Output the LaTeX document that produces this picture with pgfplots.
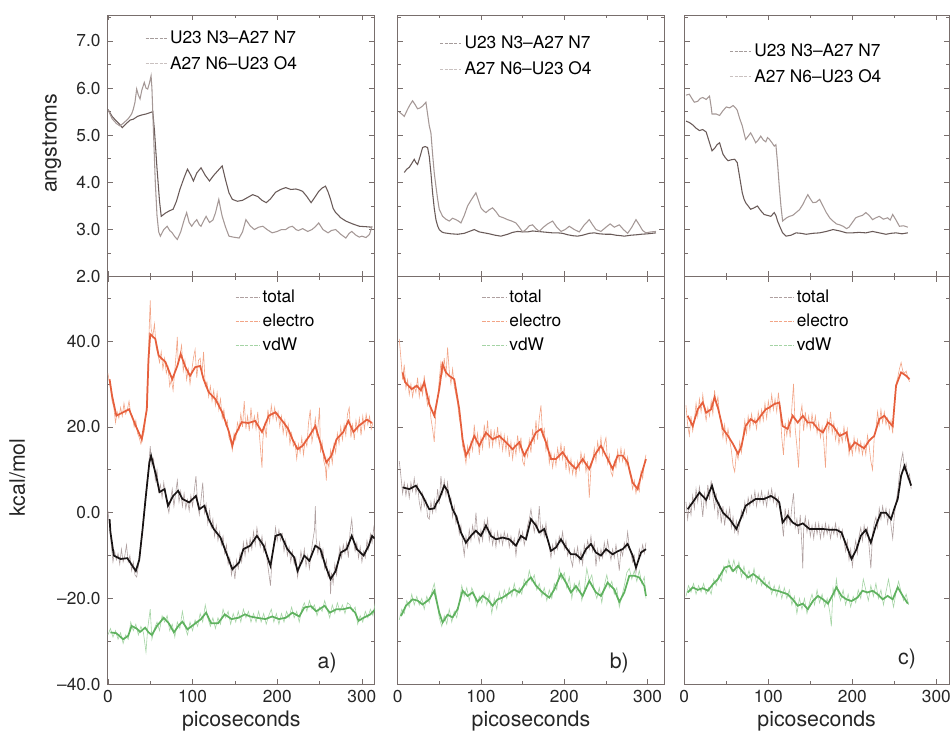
\documentclass[border=0pt]{standalone}
\usepackage{pgfplots}
\pgfplotsset{compat=1.18}
\usepackage{fontspec}
\setmainfont{TeX Gyre Heros}
\definecolor{framec}{RGB}{120,110,108}
\definecolor{topdark}{RGB}{105,90,88}
\definecolor{toplight}{RGB}{165,152,150}
\definecolor{rawtot}{RGB}{175,160,160}
\definecolor{smtot}{RGB}{25,20,20}
\definecolor{rawele}{RGB}{242,165,135}
\definecolor{smele}{RGB}{230,95,60}
\definecolor{rawvdw}{RGB}{165,212,165}
\definecolor{smvdw}{RGB}{95,178,95}
\pgfplotsset{
  panel/.style={
    scale only axis, xmin=0,
    axis line style={framec, line width=0.6pt},
    every tick/.style={framec, line width=0.5pt},
    tick align=inside,
    major tick length=4pt, minor tick length=2.5pt,
    xtick={0,100,200,300}, minor xtick={50,150,250},
    tick label style={font=\fontsize{13}{13}\selectfont, text=black!85},
    yticklabel style={xshift=-2pt},
    xticklabel style={yshift=-1pt},
    label style={font=\fontsize{16}{16}\selectfont, text=black!85},
    legend cell align=left,
  },
  toprow/.style={panel, height=196.5pt, ymin=2, ymax=7.55,
    ytick={2,3,4,5,6,7}, minor ytick={2.5,3.5,4.5,5.5,6.5,7.5},
    xticklabels={}, yticklabels={2.0,3.0,4.0,5.0,6.0,7.0},
    legend style={draw=none, fill=none, font=\fontsize{13}{13}\selectfont, anchor=north west, row sep=4pt, inner sep=0pt},
    legend image code/.code={\draw[#1, line width=0.6pt, draw opacity=0.6, dash pattern=on 2.5pt off 1pt] (0pt,0pt) -- (16pt,0pt);},
  },
  botrow/.style={panel, height=306pt, ymin=-40, ymax=55,
    ytick={-40,-20,0,20,40}, minor ytick={-30,-10,10,30,50},
    yticklabels={--40.0,--20.0,0.0,20.0,40.0},
    xticklabels={0,100,200,300},
    xlabel={picoseconds},
    xlabel style={at={(axis description cs:0.5,-0.09)}, anchor=center},
    legend style={draw=none, fill=none, font=\fontsize{13}{13}\selectfont, anchor=north west, row sep=3pt, inner sep=0pt},
    legend image code/.code={\draw[#1, line width=0.7pt, dash pattern=on 2.5pt off 1pt] (0pt,0pt) -- (18pt,0pt);},
  },
  dk/.style={topdark, line width=0.8pt},
  lt/.style={toplight, line width=0.8pt},
  rt/.style={rawtot, line width=0.45pt},
  re/.style={rawele, line width=0.45pt},
  rv/.style={rawvdw, line width=0.45pt},
  st/.style={smtot, line width=1.3pt},
  se/.style={smele, line width=1.3pt},
  sv/.style={smvdw, line width=1.3pt},
}
\begin{document}
\begin{tikzpicture}
\path[use as bounding box] (-81pt,11.25pt) rectangle (633pt,-540.75pt);
% ================= TOP A =================
\begin{axis}[toprow, at={(0pt,0pt)}, anchor=north west, width=200.25pt, xmax=315,
  ylabel={angstroms}, ylabel style={at={(axis description cs:-0.21,0.51)}, anchor=center},
  legend style={at={(axis description cs:0.139,0.95)}}]
\addplot[dk] table {
0 5.55
5 5.40
10 5.30
14 5.23
17 5.16
22 5.25
26 5.32
30 5.34
35 5.40
40 5.43
45 5.45
50 5.48
53 5.50
55 5.10
58 4.30
61 3.60
63 3.28
68 3.35
73 3.40
77 3.43
81 3.60
85 3.85
90 4.10
94 4.28
98 4.15
101 4.03
105 4.20
110 4.31
115 4.15
120 4.03
125 4.15
130 4.25
135 4.35
139 4.05
143 3.78
147 3.64
153 3.60
159 3.62
165 3.68
171 3.74
177 3.70
182 3.62
187 3.57
192 3.65
198 3.79
204 3.85
210 3.89
216 3.85
222 3.86
226 3.84
230 3.81
235 3.70
240 3.57
245 3.70
249 3.81
253 3.88
257 3.92
260 3.80
263 3.64
266 3.45
269 3.36
275 3.25
281 3.18
289 3.12
297 3.07
305 3.06
312 3.05
};
\addlegendentry{U23 N3--A27 N7}
\addplot[lt] table {
0 5.55
5 5.35
10 5.25
14 5.20
18 5.25
24 5.35
28 5.45
30 5.55
32 5.70
34 5.98
36 5.85
38 5.77
40 5.95
43 6.12
45 6.00
47 5.98
49 6.10
51 6.26
52 6.00
54 5.00
56 4.00
58 3.30
60 2.95
62 2.86
66 3.00
70 3.07
73 2.98
76 2.93
79 2.85
82 2.79
86 2.95
90 3.20
93 3.36
96 3.15
99 3.07
102 3.15
105 3.21
108 3.10
110 3.07
113 3.18
116 3.28
120 3.15
124 3.20
127 3.35
131 3.64
133 3.45
135 3.28
139 3.05
143 2.86
148 2.84
155 2.82
159 2.95
163 3.21
168 3.08
173 3.00
178 3.05
183 3.07
188 3.00
194 2.93
200 2.96
205 3.00
210 3.00
214 3.05
218 3.07
222 3.00
225 2.98
230 3.02
236 2.96
241 3.00
245 3.06
249 3.14
254 3.00
260 2.93
264 2.98
269 3.00
275 2.90
281 2.82
285 2.92
288 2.96
293 2.88
297 2.84
300 2.86
305 2.83
309 2.90
312 3.07
};
\addlegendentry{A27 N6--U23 O4}
\end{axis}
% ================= TOP B =================
\begin{axis}[toprow, at={(217.5pt,0pt)}, anchor=north west, width=200.25pt, xmax=320,
  yticklabels={}, legend style={at={(axis description cs:0.157,0.93)}}]
\addplot[dk] table {
8 4.21
11 4.28
14 4.32
17 4.40
20 4.49
22 4.42
24 4.38
27 4.55
30 4.74
33 4.76
36 4.74
38 4.55
40 4.20
42 3.78
44 3.45
46 3.21
48 3.08
50 3.00
53 2.95
56 2.93
64 2.91
72 2.90
80 2.92
86 2.96
92 3.00
98 2.95
104 2.93
110 2.91
117 2.88
124 2.86
132 2.90
138 2.94
144 2.96
150 2.95
156 2.95
162 2.97
168 2.96
174 2.95
180 2.94
186 2.93
192 2.93
198 2.92
204 2.89
210 2.87
216 2.86
222 2.88
230 2.92
236 2.93
242 2.91
250 2.90
256 2.90
262 2.88
268 2.87
272 2.86
280 2.88
287 2.89
292 2.90
300 2.91
305 2.92
310 2.93
};
\addlegendentry{U23 N3--A27 N7}
\addplot[lt] table {
2 5.49
5 5.45
8 5.40
12 5.55
15 5.65
18 5.73
21 5.65
24 5.56
27 5.58
30 5.62
32 5.66
34 5.70
36 5.45
38 5.20
40 5.05
42 4.60
44 4.20
46 3.92
48 3.65
50 3.43
54 3.28
58 3.22
62 3.18
66 3.24
70 3.21
73 3.18
76 3.14
80 3.30
84 3.50
88 3.62
91 3.70
94 3.78
97 3.62
100 3.46
103 3.40
106 3.36
110 3.42
114 3.46
118 3.38
122 3.28
127 3.25
132 3.21
137 3.18
142 3.14
146 3.05
150 2.95
154 3.00
158 3.08
162 3.10
166 3.02
170 2.96
175 3.05
180 3.12
186 3.18
191 3.05
196 2.96
201 3.00
206 3.07
212 3.00
218 2.95
224 3.10
230 3.21
234 3.10
238 3.00
244 2.96
250 3.05
255 3.12
260 3.05
266 3.10
271 3.00
276 2.92
281 3.05
286 3.21
290 3.10
294 2.98
298 2.93
304 2.95
310 2.96
};
\addlegendentry{A27 N6--U23 O4}
\end{axis}
% ================= TOP C =================
\begin{axis}[toprow, at={(432.75pt,0pt)}, anchor=north west, width=198.75pt, xmax=315,
  yticklabels={}, legend style={at={(axis description cs:0.17,0.90)}}]
\addplot[dk] table {
2 5.30
6 5.27
10 5.22
14 5.15
18 5.10
22 5.12
26 5.07
29 4.90
33 4.67
36 4.72
39 4.80
42 4.84
44 4.72
46 4.60
49 4.52
52 4.46
56 4.48
60 4.49
63 4.42
66 4.10
69 3.78
71 3.65
73 3.57
76 3.50
79 3.43
83 3.46
87 3.50
91 3.40
95 3.32
99 3.30
103 3.28
107 3.36
109 3.30
111 3.18
114 3.05
117 2.93
121 2.86
127 2.88
133 2.93
139 2.92
145 2.90
153 2.92
161 2.93
169 2.96
177 3.00
185 2.97
193 2.93
200 2.93
208 2.94
216 2.93
224 2.96
232 2.93
240 2.90
246 2.92
252 2.93
259 2.91
266 2.93
};
\addlegendentry{U23 N3--A27 N7}
\addplot[lt] table {
2 5.85
6 5.87
9 5.78
12 5.70
16 5.72
19 5.78
22 5.80
26 5.76
30 5.83
32 5.60
33 5.45
38 5.45
42 5.42
46 5.52
50 5.60
54 5.58
58 5.63
61 5.58
63 5.53
66 5.35
69 5.20
71 5.05
73 4.91
76 4.98
79 5.05
82 4.95
85 4.84
88 4.90
91 4.98
94 4.90
97 4.86
99 4.95
101 4.92
104 4.85
107 4.77
109 4.80
111 4.40
113 3.92
115 3.50
117 3.18
121 3.24
125 3.28
129 3.30
133 3.36
137 3.42
141 3.53
144 3.64
147 3.74
150 3.65
153 3.57
157 3.58
161 3.64
165 3.50
169 3.36
173 3.25
177 3.18
181 3.12
185 3.10
189 3.07
193 3.02
196 3.05
200 3.15
204 3.25
208 3.28
212 3.30
216 3.36
220 3.30
224 3.21
228 3.25
232 3.28
237 3.22
242 3.25
245 3.20
248 3.32
252 3.20
256 3.07
261 3.08
266 3.05
};
\addlegendentry{A27 N6--U23 O4}
\end{axis}
% ================= BOTTOM A =================
\begin{axis}[botrow, at={(0pt,-196.5pt)}, anchor=north west, width=200.25pt, xmax=315,
  ylabel={kcal/mol}, ylabel style={at={(axis description cs:-0.34,0.507)}, anchor=center},
  legend style={at={(axis description cs:0.476,0.975)}}]
\addplot[rt] table {
0 0.5
2 -3.0
4 -7.5
6 -11.5
8 -9.0
10 -11.0
12 -9.5
14 -12.0
16 -8.5
18 -11.5
20 -10.0
22 -7.5
24 -11.5
26 -10.0
28 -13.5
30 -11.5
32 -14.5
34 -15.0
36 -12.5
38 -10.0
40 -6.0
42 -1.0
44 3.0
46 7.0
48 10.5
50 15.5
52 11.0
54 12.5
56 7.5
58 10.0
60 5.0
62 6.5
64 3.5
66 7.0
68 4.0
70 2.0
72 0.0
74 3.0
76 5.5
78 1.5
80 4.5
82 7.5
84 2.5
86 5.0
88 1.5
90 4.5
92 1.0
94 3.0
96 0.5
98 4.0
100 1.5
102 5.0
104 8.5
106 2.0
108 -0.5
110 3.0
112 7.0
114 0.0
116 2.0
118 -2.5
120 0.5
122 -3.5
124 -1.5
126 -5.5
128 -3.0
130 -6.5
132 -4.5
134 -7.5
136 -5.5
138 -9.5
140 -7.5
142 -12.0
144 -10.5
146 -14.5
148 -12.0
150 -15.5
152 -11.0
154 -13.0
156 -9.5
158 -11.5
160 -7.0
162 -10.0
164 -6.5
166 -9.0
168 -6.0
170 -8.5
172 -4.5
174 -7.5
176 -3.5
178 -6.0
180 -8.0
182 -5.5
184 -9.0
186 -7.0
188 -11.0
190 -14.0
192 -17.0
194 -10.5
196 -7.5
198 -3.5
200 -6.5
202 -4.0
204 -6.5
206 -5.0
208 -9.0
210 -6.5
212 -10.0
214 -8.0
216 -11.5
218 -9.0
220 -12.0
222 -10.5
224 -15.0
226 -12.5
228 -9.0
230 -11.5
232 -8.5
234 -12.5
236 -10.0
238 -13.0
240 -9.5
242 -6.5
244 -4.0
245 1.5
246 -6.0
248 -9.5
250 -7.0
252 -10.5
254 -8.5
256 -13.0
258 -11.0
260 -15.0
262 -13.5
263 -19.0
264 -14.0
266 -16.5
268 -12.0
270 -14.5
272 -11.0
274 -8.0
276 -10.5
278 -7.5
280 -9.5
282 -7.0
284 -10.5
286 -4.5
288 -1.5
290 -6.5
292 -9.0
294 -7.0
296 -10.5
298 -8.0
300 -11.5
302 -9.0
304 -10.5
306 -6.5
308 -8.5
310 -5.0
312 -7.0
314 -3.5
316 -6.0
};
\addlegendentry{total}
\addplot[re] table {
0 32.5
3 29.0
5 26.0
7 24.5
9 21.0
11 23.5
13 22.0
15 24.5
17 22.5
19 25.5
21 23.0
23 24.0
25 26.0
27 23.0
29 22.5
31 20.0
33 21.5
35 18.5
37 17.5
39 16.0
41 17.5
43 19.0
45 23.0
47 33.0
49 44.0
50 49.5
51 43.0
53 41.0
55 44.0
57 38.5
59 37.0
61 35.0
63 37.5
65 33.5
67 36.0
69 32.5
71 34.0
73 29.5
75 31.0
77 28.5
79 33.0
81 38.0
82 41.0
83 35.0
85 36.5
87 39.0
89 33.0
91 35.5
93 31.0
95 33.5
97 30.0
99 33.0
101 36.0
103 38.0
105 31.5
107 35.5
109 36.0
111 32.0
113 37.5
115 29.5
117 30.5
119 27.0
121 29.5
123 26.0
125 28.5
127 25.0
129 28.0
131 24.0
133 26.5
135 22.0
137 24.0
139 20.5
141 21.5
143 17.5
145 16.5
147 14.5
149 18.5
151 17.0
153 21.0
155 19.5
157 23.0
159 20.0
161 26.0
163 19.5
165 22.5
167 19.0
169 24.5
171 20.0
173 22.5
175 19.5
177 23.5
179 18.0
181 13.0
182 10.5
183 17.0
185 20.5
187 17.5
189 24.0
191 21.0
193 25.0
195 22.0
197 24.5
199 21.5
201 23.5
203 20.0
205 22.5
207 18.5
209 21.5
211 18.0
213 20.5
215 16.0
217 18.5
219 15.5
221 16.5
223 12.5
225 16.0
227 14.0
229 17.5
231 13.5
233 17.0
235 15.5
237 21.0
239 24.0
241 16.5
243 19.0
245 22.0
247 17.5
249 22.0
250 24.5
251 14.0
253 16.5
255 12.0
257 10.5
258 7.5
259 12.5
261 10.5
263 14.5
265 11.5
267 16.0
269 14.0
271 18.5
273 16.0
275 20.0
277 17.0
279 20.5
281 18.0
283 23.0
285 24.5
287 17.5
289 20.5
291 17.0
293 21.5
295 19.0
297 22.0
299 18.0
301 22.5
303 19.5
305 23.0
307 20.5
309 22.5
311 19.5
313 21.0
};
\addlegendentry{electro}
\addplot[rv] table {
0 -28.5
3 -27.0
6 -29.0
9 -27.5
12 -29.5
15 -28.0
18 -30.5
21 -28.5
24 -29.5
27 -25.5
30 -27.5
33 -26.0
36 -28.5
39 -26.5
42 -28.0
45 -32.5
47 -27.0
50 -22.5
52 -29.5
55 -27.0
58 -25.5
61 -27.5
64 -24.0
67 -25.5
70 -24.0
73 -27.5
76 -26.0
79 -29.0
82 -25.5
85 -27.0
88 -23.0
91 -26.5
94 -28.5
97 -25.5
100 -27.5
103 -25.0
106 -26.5
109 -23.5
112 -25.5
115 -21.5
118 -24.5
121 -26.5
124 -24.5
127 -27.0
130 -24.5
133 -26.0
136 -22.5
139 -24.5
142 -23.0
145 -26.0
148 -23.5
151 -25.5
154 -23.0
157 -25.5
160 -22.5
163 -24.5
166 -23.0
169 -25.5
172 -23.5
175 -25.5
178 -23.0
181 -25.5
184 -23.5
187 -26.0
190 -24.0
193 -22.5
196 -25.5
199 -23.5
202 -26.0
205 -23.5
208 -25.5
211 -23.0
214 -24.5
217 -22.0
220 -24.5
223 -23.0
226 -25.5
229 -22.5
232 -21.0
235 -23.0
238 -20.5
241 -22.5
244 -21.5
247 -24.0
250 -22.0
253 -23.0
256 -20.5
259 -22.5
262 -24.5
265 -21.5
268 -23.5
271 -21.0
274 -23.0
277 -21.5
280 -23.5
283 -21.0
286 -21.5
289 -23.0
292 -22.0
295 -26.0
298 -24.0
301 -25.5
304 -23.0
307 -24.5
310 -22.5
313 -24.0
316 -20.5
};
\addlegendentry{vdW}
\addplot[st, forget plot] table {
2 -1.5
3 -4.5
7 -10.0
15 -10.8
23 -10.6
29 -12.4
33 -13.6
37 -11.0
41 -3.8
44.5 3.2
49 11.7
51 13.3
57 8.6
61 4.8
67 5.5
71 1.6
77 3.9
83 5.1
88 3.2
96 2.4
104 3.9
108 0.8
114 1.6
119 -1.5
125 -3.8
133 -5.8
141 -10.0
147 -13.2
155 -11.6
160 -8.5
168 -7.7
176 -5.4
184 -7.7
192 -12.4
198 -5.4
204 -5.0
212 -8.5
220 -10.4
224 -13.6
232 -10.0
238 -11.2
245 -7.7
251 -8.5
257 -12.4
263 -15.5
269 -13.6
275 -9.3
282 -8.5
288 -5.4
294 -8.5
302 -10.0
308 -7.7
312 -5.4
315 -6.0
};
\addplot[se, forget plot] table {
2 31.1
5 27.2
10 22.6
18 23.4
25 24.1
33 20.2
40 17.1
46 24.1
48 35.8
50 41.6
56 40.5
60 36.6
68 35.1
76 31.1
82 34.2
86 37.0
91 34.2
97 31.9
103 33.9
109 34.2
113 31.1
119 28.1
127 26.5
135 23.4
143 18.8
147 15.6
150 17.9
158 21.1
166 20.9
174 21.4
182 18.8
190 22.6
198 23.4
208 20.9
213 19.5
218 17.1
224 14.8
230 15.6
238 17.9
245 20.2
252 15.6
258 11.7
264 13.3
270 17.1
278 18.8
284 21.4
290 18.8
296 20.2
302 21.1
306 21.7
312 20.9
};
\addplot[sv, forget plot] table {
3 -27.9
10 -28.1
18 -29.5
24 -28.7
28 -26.4
34 -27.0
38 -27.8
44 -26.8
48 -27.9
52 -28.5
58 -26.4
66 -24.5
72 -25.8
78 -27.9
84 -26.2
88 -25.4
94 -27.2
102 -26.0
110 -24.8
116 -23.3
122 -25.8
130 -25.8
138 -23.7
146 -24.8
154 -24.5
162 -23.7
168 -24.2
176 -24.5
186 -24.8
194 -24.2
202 -24.8
210 -24.5
218 -23.3
226 -24.2
232 -22.1
240 -21.8
246 -23.0
256 -21.7
262 -23.3
270 -22.5
278 -22.5
286 -22.1
292 -23.3
296 -25.2
302 -24.5
310 -23.7
316 -22.5
};
\node[font=\fontsize{16}{16}\selectfont, text=black!85] at (axis cs:259,-35) {a)};
\end{axis}
% ================= BOTTOM B =================
\begin{axis}[botrow, at={(217.5pt,-196.5pt)}, anchor=north west, width=200.25pt, xmax=320,
  yticklabels={}, legend style={at={(axis description cs:0.315,0.975)}}]
\addplot[rt] table {
2 12.0
4 8.5
6 4.5
8 7.0
10 4.0
12 6.5
14 3.5
16 7.0
18 5.0
20 8.0
22 4.5
24 6.5
26 2.5
28 0.5
30 4.5
32 1.5
34 3.0
36 -1.0
38 -1.5
40 2.5
42 0.0
44 3.0
46 0.5
48 5.5
50 2.0
52 8.5
54 4.5
56 7.5
58 4.0
60 7.0
62 2.5
64 3.5
66 -1.0
68 1.5
70 -2.5
72 -1.0
74 -5.0
76 -3.0
78 -7.0
80 -10.0
82 -5.5
84 -8.0
86 -4.0
88 -6.5
90 -3.0
92 -5.5
94 0.0
96 -5.0
98 -7.0
100 -4.0
102 -6.5
104 -2.0
106 -4.5
108 -1.5
110 -6.5
112 -4.0
114 -7.5
116 -5.0
118 -8.0
120 -4.5
122 -7.0
124 -5.0
126 -7.5
128 -4.5
130 -6.5
132 -5.0
134 -8.0
136 -5.5
138 -7.5
140 -6.0
142 -10.0
144 -6.5
146 -4.0
148 -6.5
150 -4.5
152 -7.5
154 -5.5
156 -3.0
158 -1.5
160 0.8
162 -2.0
164 -4.5
166 -2.0
168 -4.0
170 1.5
172 -5.0
174 -3.0
176 -5.5
178 -2.5
180 -6.5
182 -8.0
184 -10.5
186 -7.5
188 -9.5
190 -6.5
192 -8.5
194 -5.5
196 -7.0
198 -4.5
200 -8.5
202 -6.5
204 -10.0
206 -8.5
208 -11.0
210 -12.5
212 -8.5
214 -10.5
216 -8.0
218 -11.5
220 -9.0
222 -12.0
224 -7.5
226 -9.5
228 -6.5
230 -8.5
232 -5.5
234 -9.0
236 -7.0
238 -12.5
240 -8.5
242 -11.0
244 -8.5
246 -10.5
248 -7.0
250 -9.5
252 -6.5
254 -9.0
256 -11.0
258 -8.5
260 -10.5
262 -7.5
264 -10.0
266 -13.5
268 -8.5
270 -10.0
272 -7.0
274 -8.5
276 -4.5
278 -8.0
280 -9.5
282 -11.5
284 -10.0
286 -14.0
288 -11.5
290 -8.5
292 -10.0
294 -7.5
296 -9.5
298 -7.0
};
\addlegendentry{total}
\addplot[re] table {
2 40.5
4 36.0
6 31.0
8 34.5
10 29.0
12 31.0
14 27.5
16 30.0
18 27.0
20 29.5
22 28.0
24 31.5
26 27.0
28 30.0
30 27.5
32 32.0
34 27.5
36 25.0
38 27.0
40 22.0
42 19.5
44 16.5
46 24.0
48 26.0
50 31.0
52 35.0
54 32.5
56 36.0
58 31.5
60 38.5
62 33.0
64 30.0
66 33.5
68 29.5
70 27.5
72 25.5
74 22.0
76 20.0
78 15.5
80 14.0
82 11.5
84 15.5
86 13.0
88 16.5
90 14.5
92 20.5
94 16.0
96 18.5
98 13.5
100 17.5
102 15.0
104 20.5
106 17.0
108 21.5
110 15.0
112 19.5
114 15.5
116 19.0
118 16.5
120 20.0
122 15.5
124 18.5
126 14.5
128 18.0
130 14.5
132 17.5
134 13.0
136 16.5
138 12.5
140 16.0
142 13.5
144 18.0
146 14.5
148 17.5
150 12.0
152 11.0
154 14.5
156 13.0
158 17.0
160 14.0
162 19.5
164 16.0
166 21.5
168 17.0
170 22.0
172 25.0
174 18.0
176 19.5
178 14.5
180 17.0
182 11.5
184 14.0
186 10.5
188 13.5
190 11.0
192 15.0
194 12.5
196 16.0
198 12.5
200 15.5
202 10.0
204 13.0
206 9.5
208 12.5
210 9.0
212 11.5
214 8.5
216 12.0
218 10.0
220 14.0
222 11.5
224 13.5
226 9.5
228 12.0
230 3.5
232 10.5
234 12.0
236 15.0
238 12.0
240 16.5
242 14.0
244 17.5
246 13.5
248 16.0
250 17.5
252 11.5
254 13.5
256 9.5
258 8.5
260 12.0
262 10.5
264 14.5
266 12.0
268 15.0
270 12.0
272 14.5
274 11.0
276 13.0
278 9.5
280 8.0
282 5.5
284 7.5
286 4.5
288 6.5
290 5.0
292 9.5
294 8.0
296 11.5
298 13.5
};
\addlegendentry{electro}
\addplot[rv] table {
2 -25.0
5 -22.5
8 -23.5
11 -20.5
14 -22.0
17 -19.0
20 -21.5
23 -19.5
26 -21.5
29 -20.0
32 -22.5
35 -19.5
38 -21.0
41 -18.5
44 -16.5
47 -20.0
50 -24.5
53 -26.5
56 -24.0
59 -26.0
62 -22.5
65 -25.5
68 -23.0
71 -24.5
74 -21.0
77 -17.0
80 -19.5
83 -17.5
86 -20.5
89 -17.5
92 -19.0
95 -22.0
98 -19.5
101 -21.0
104 -18.5
107 -21.5
110 -19.0
113 -23.5
116 -20.0
119 -22.5
122 -18.5
125 -21.0
128 -18.0
131 -20.0
134 -17.5
137 -19.5
140 -16.5
143 -19.5
146 -17.5
149 -19.0
152 -15.5
155 -17.0
158 -13.5
161 -16.0
164 -14.5
167 -18.0
170 -16.5
173 -19.5
176 -17.5
179 -20.5
182 -18.0
185 -20.0
188 -16.5
191 -18.0
194 -13.0
197 -15.5
200 -14.0
203 -17.5
206 -15.0
209 -20.0
212 -16.5
215 -18.5
218 -16.0
221 -20.5
224 -18.0
227 -13.0
230 -16.0
233 -14.5
236 -18.0
239 -20.0
242 -17.5
245 -21.0
248 -17.0
251 -14.5
254 -17.5
257 -16.0
260 -19.0
263 -17.5
266 -22.0
269 -19.5
272 -17.0
275 -14.0
278 -13.0
281 -15.5
284 -13.5
287 -16.0
290 -13.5
293 -16.5
296 -15.0
298 -20.0
};
\addlegendentry{vdW}
\addplot[st, forget plot] table {
6 5.9
14 5.5
22 6.3
30 3.9
38 0.8
44 1.0
46 2.0
50 3.2
56 6.3
60 5.1
66 0.8
70 -0.7
76 -4.6
82 -7.0
88 -5.4
94 -4.2
100 -5.4
106 -3.0
112 -5.4
118 -6.2
126 -5.8
134 -6.2
142 -7.7
148 -5.4
154 -6.2
160 -1.5
166 -3.0
170 -4.6
176 -3.8
180 -6.2
184 -8.9
190 -8.1
196 -6.2
202 -8.1
208 -9.7
214 -9.7
220 -10.8
226 -8.5
232 -7.3
238 -9.3
244 -10.0
250 -8.5
258 -9.7
264 -9.0
270 -8.5
276 -7.3
282 -10.0
286 -12.8
292 -9.3
298 -8.5
};
\addplot[se, forget plot] table {
6 32.7
9 30.4
17 28.8
23 29.6
28 28.5
32 30.4
38 25.3
44 22.6
50 28.8
54 34.6
58 32.7
62 31.9
68 31.1
74 24.1
78 17.1
82 13.3
86 14.8
92 17.9
98 15.6
106 18.7
114 17.1
122 17.9
130 16.4
138 14.8
146 16.4
152 13.3
158 15.6
166 18.7
172 19.5
178 16.4
184 12.5
190 12.5
198 14.1
206 11.7
214 10.2
222 12.5
230 10.2
236 13.3
244 15.6
250 13.3
258 10.2
264 13.3
270 13.3
276 11.7
282 7.0
288 5.5
292 8.6
298 12.5
};
\addplot[sv, forget plot] table {
4 -24.1
10 -21.7
18 -20.2
24 -20.5
30 -21.4
38 -20.2
44 -18.2
50 -23.3
54 -25.6
60 -23.8
66 -24.4
72 -22.5
78 -18.2
84 -19.4
90 -18.6
96 -20.8
102 -19.4
108 -20.2
114 -21.7
120 -20.2
126 -19.8
132 -19.0
140 -17.9
146 -18.6
154 -16.3
160 -15.1
166 -17.0
174 -18.6
182 -19.8
188 -17.9
196 -14.3
202 -16.3
208 -18.6
214 -17.1
222 -19.4
230 -15.9
238 -18.6
244 -19.4
252 -16.3
260 -17.9
266 -20.8
272 -18.6
278 -14.7
284 -14.7
290 -15.1
296 -17.1
298 -19.4
};
\node[font=\fontsize{16}{16}\selectfont, text=black!85] at (axis cs:266,-35) {b)};
\end{axis}
% ================= BOTTOM C =================
\begin{axis}[botrow, at={(432.75pt,-196.5pt)}, anchor=north west, width=198.75pt, xmax=315,
  yticklabels={}, legend style={at={(axis description cs:0.32,0.975)}}]
\addplot[rt] table {
2 2.5
4 -1.5
6 2.0
8 -0.5
10 4.0
12 1.0
14 5.5
16 2.5
18 6.0
20 3.0
22 -1.0
24 4.5
26 1.5
28 6.5
30 3.0
32 7.5
34 4.0
36 1.0
38 4.5
40 -1.0
42 2.0
44 -2.5
46 1.5
48 -3.0
50 0.5
52 -1.5
54 1.0
56 -3.5
58 -1.0
60 -4.5
62 -2.0
64 -5.0
66 -2.5
68 0.5
70 -1.0
72 2.5
74 0.0
76 3.5
78 1.5
80 4.0
82 2.0
84 5.0
86 1.5
88 4.5
90 2.5
92 5.0
94 2.0
96 4.0
98 1.5
100 5.0
102 3.0
104 5.5
106 2.5
108 4.5
110 1.5
112 3.5
114 0.5
116 -2.0
118 -5.5
120 1.0
122 -2.5
124 0.5
126 -3.0
128 1.5
130 4.5
132 -3.5
134 -1.5
136 -5.0
138 -0.5
140 -8.0
141 -13.0
142 -4.0
144 -1.0
146 -4.5
148 -2.0
150 -5.5
152 -3.0
154 -6.0
156 -2.5
158 -5.0
160 -2.5
162 -6.0
164 -3.0
166 -5.5
168 -2.5
170 -5.0
172 -3.0
174 -6.0
176 -3.5
178 -5.0
180 -2.5
182 -5.5
184 -3.5
186 -6.0
188 -4.0
190 -6.5
192 -9.0
194 -6.5
196 -11.0
198 -8.5
200 -12.5
202 -9.0
204 -6.5
206 -9.5
208 -5.5
210 -3.5
212 -6.5
214 -3.0
216 -5.5
218 -3.5
220 -8.0
222 -13.0
224 -5.0
226 -2.5
228 -1.0
230 -3.5
232 1.0
234 -1.5
236 1.5
238 -1.0
240 1.0
242 -2.5
244 0.5
246 -3.0
248 -6.0
250 -0.5
252 2.5
254 5.0
256 9.0
258 12.0
260 14.0
262 10.0
264 11.5
266 8.0
268 9.0
270 5.5
};
\addlegendentry{total}
\addplot[re] table {
2 25.0
4 20.5
6 18.0
8 22.5
10 19.0
12 21.5
14 25.5
16 22.5
18 26.5
20 23.5
22 27.5
24 24.0
26 21.5
28 24.5
30 22.5
32 26.0
34 23.0
36 28.5
38 25.0
40 27.0
42 22.5
44 20.5
46 17.5
48 20.5
50 16.5
52 19.5
54 17.0
56 14.5
58 11.0
60 9.5
62 14.0
64 12.5
66 16.5
68 14.0
70 18.0
72 21.5
74 18.5
76 22.5
78 19.5
80 23.0
82 20.5
84 22.0
86 19.5
88 23.5
90 21.0
92 24.0
94 21.5
96 25.5
98 22.0
100 26.0
102 23.5
104 27.5
106 24.0
108 26.5
110 23.5
112 28.0
114 24.0
116 17.5
118 13.5
120 21.0
122 18.0
124 21.5
126 17.5
128 24.5
130 30.0
132 19.5
134 15.5
136 10.5
138 22.5
140 25.0
142 19.0
144 23.5
146 20.0
148 22.5
150 19.5
152 23.0
154 20.0
156 22.5
158 18.5
160 21.0
162 17.5
164 20.0
166 16.5
168 10.5
170 22.0
172 19.0
174 23.5
176 18.5
178 21.0
180 17.0
182 19.5
184 16.0
186 18.5
188 16.5
190 20.0
192 17.0
194 19.5
196 13.5
198 16.0
200 13.5
202 17.5
204 14.5
206 17.0
208 14.0
210 16.5
212 13.5
214 16.0
216 13.5
218 18.0
220 15.5
222 12.0
224 10.0
226 17.5
228 19.5
230 23.5
232 20.5
234 24.0
236 21.0
238 23.5
240 20.5
242 22.0
244 19.5
246 21.5
248 18.5
250 26.0
252 30.0
254 31.5
256 33.5
258 35.0
260 33.0
262 32.5
264 33.0
266 31.5
268 30.5
};
\addlegendentry{electro}
\addplot[rv] table {
2 -19.5
5 -17.0
8 -18.5
11 -16.5
14 -19.0
17 -17.0
20 -18.5
23 -16.5
26 -19.0
29 -17.5
32 -19.0
35 -15.5
38 -17.0
41 -14.5
44 -16.0
47 -12.5
50 -14.0
53 -11.0
56 -13.5
59 -11.0
62 -14.0
65 -11.5
68 -15.0
71 -12.5
74 -15.5
77 -13.5
80 -16.0
83 -13.0
86 -16.5
89 -14.5
92 -17.0
95 -15.0
98 -17.5
101 -16.0
104 -19.0
107 -17.0
110 -19.5
113 -17.0
116 -20.0
119 -17.5
122 -20.0
125 -18.0
128 -21.5
131 -19.5
134 -23.5
137 -20.0
140 -22.5
143 -20.0
146 -23.5
149 -21.0
152 -19.0
155 -21.5
158 -18.0
161 -21.0
164 -19.0
167 -22.0
170 -20.0
173 -23.0
175 -26.5
177 -17.5
179 -19.5
181 -15.5
183 -18.5
186 -20.5
189 -18.0
192 -21.5
195 -19.0
198 -22.0
201 -19.5
204 -21.0
207 -18.0
210 -20.0
213 -15.5
216 -18.0
219 -20.5
222 -17.0
225 -19.5
228 -16.5
231 -20.0
234 -18.0
237 -21.5
240 -18.5
243 -15.5
246 -19.0
249 -22.0
252 -18.5
255 -16.0
258 -18.5
261 -20.5
264 -19.0
267 -21.5
};
\addlegendentry{vdW}
\addplot[st, forget plot] table {
4 0.8
10 2.4
18 4.7
26 3.0
33 6.3
37 3.5
46 0.0
54 -1.5
62 -3.8
68 -1.0
73 1.6
79 2.4
85 3.2
95 3.2
103 3.9
109 3.2
113 2.4
117 -2.3
123 -0.7
129 -2.3
135 -3.0
141 -2.5
149 -3.8
157 -3.8
165 -3.8
173 -4.0
181 -4.0
187 -4.6
193 -7.7
199 -10.8
205 -8.5
210 -5.4
216 -4.0
222 -7.0
228 -3.0
234 0.0
240 0.0
246 -1.5
250 1.0
254 3.2
258 8.6
262 10.9
266 8.6
270 6.3
};
\addplot[se, forget plot] table {
4 22.6
10 20.2
16 24.1
22 25.7
26 23.3
32 24.1
36 26.9
40 24.5
46 19.5
52 17.9
58 16.0
64 13.7
68 15.5
73 20.2
79 21.8
85 21.0
91 22.6
97 24.1
101 24.5
107 25.3
113 25.7
117 20.2
123 19.5
129 22.6
135 21.0
141 22.6
147 21.0
153 21.0
159 19.5
165 18.7
171 21.0
177 20.2
185 17.9
193 18.7
197 14.8
203 16.4
209 15.6
214 15.0
220 16.8
226 17.9
232 21.8
238 22.6
244 21.0
248 20.2
252 29.6
258 32.7
264 31.9
268 31.1
};
\addplot[sv, forget plot] table {
4 -18.6
10 -17.4
16 -18.0
22 -17.6
28 -18.2
34 -16.7
40 -15.5
48 -12.8
54 -12.4
58 -13.6
64 -12.4
70 -13.9
76 -15.1
82 -14.3
90 -15.5
96 -16.7
104 -17.9
111 -18.2
117 -18.6
123 -19.0
129 -20.2
135 -21.7
141 -21.2
147 -22.5
153 -20.6
159 -19.4
165 -20.2
171 -21.2
177 -19.0
181 -17.4
187 -19.4
193 -20.2
199 -20.6
206 -19.8
212 -18.2
218 -18.6
224 -18.2
230 -19.0
236 -20.2
242 -19.4
248 -20.2
254 -17.4
260 -19.4
266 -21.2
};
\node[font=\fontsize{16}{16}\selectfont, text=black!85] at (axis cs:265,-34) {c)};
\end{axis}
\end{tikzpicture}
\end{document}
